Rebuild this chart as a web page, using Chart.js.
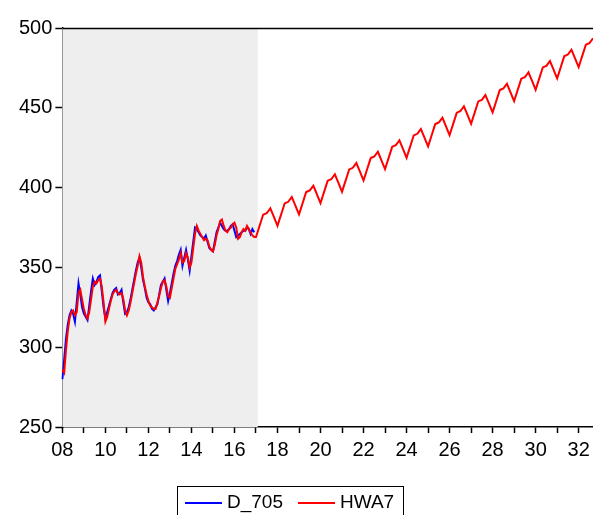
<!DOCTYPE html>
<html>
<head>
<meta charset="utf-8">
<script src="https://cdn.jsdelivr.net/npm/chart.js@4.4.0/dist/chart.umd.min.js"></script>
<style>
  html, body { margin: 0; padding: 0; background: #fff; overflow: hidden; }
  #wrap { position: relative; width: 593px; height: 515px; }
  #legend {
    position: absolute; left: 177px; top: 486px; width: 227px; height: 40px;
    border: 1px solid #000; box-sizing: border-box;
    font-family: 'Liberation Sans', Arial, sans-serif; font-size: 19px; color: #000;
  }
  #legend .item { position: absolute; top: 3px; line-height: 24px; }
  #legend .line { display: inline-block; width: 37px; height: 2px; vertical-align: middle; margin-right: 5px; }
</style>
</head>
<body>
<div id="wrap">
  <canvas id="chart" width="593" height="515"></canvas>
  <div id="legend">
    <span class="item" style="left:7px"><span class="line" style="background:#0000ff"></span>D_705</span>
    <span class="item" style="left:120px"><span class="line" style="background:#ff0000"></span>HWA7</span>
  </div>
</div>
<script>
// monthly periods, 2008M01 .. 2032M09
const years = [2008, 2009, 2010, 2011, 2012, 2013, 2014, 2015, 2016, 2017, 2018, 2019, 2020,
               2021, 2022, 2023, 2024, 2025, 2026, 2027, 2028, 2029, 2030, 2031, 2032];
const lastMonth = 9;
const shadeEnd = '2017M02';

// D_705 (actual), 2008M01 .. 2016M12
const d705 = [
  280, 292, 305, 314, 320, 323, 321, 316, 328, 340, 333, 325,
  321, 319, 317, 326, 335, 343, 339, 341, 344, 345, 335, 325,
  318, 322, 326, 330, 334, 336, 337, 333, 334, 336, 328, 321,
  322, 325, 330, 336, 342, 348, 353, 356, 350, 342, 337, 331,
  328, 327, 324, 323, 325, 327, 333, 339, 341, 343, 336, 329,
  334, 340, 346, 351, 354, 358, 361, 351, 356, 361, 355, 348,
  357, 366, 375, 374, 372, 370, 369, 368, 370, 366, 362, 361,
  360, 366, 372, 375, 378, 376, 374, 373, 373, 374, 376, 377,
  373, 369, 370, 371, 372, 373, 373, 375, 374, 371, 374, 372
];

// HWA7 fitted, 2008M01 .. 2016M12
const hwaFitted = [
  286, 284, 298, 310, 318, 322, 323, 320, 322, 334, 336, 330,
  324, 320, 318, 322, 330, 338, 341, 340, 342, 343, 338, 328,
  316, 319, 324, 329, 333, 335, 336, 334, 333, 334, 330, 323,
  320, 323, 328, 334, 340, 346, 351, 357, 353, 344, 338, 333,
  329, 326, 325, 324, 324, 328, 332, 337, 341, 342, 338, 332,
  331, 337, 343, 349, 352, 355, 359, 353, 354, 359, 356, 350,
  353, 362, 371, 376, 373, 371, 369, 367, 368, 367, 363, 361,
  360, 364, 370, 374, 379, 380, 376, 373, 372, 374, 375, 377,
  378, 375, 368, 369, 372, 374, 373, 376, 374, 372, 370, 369
];

// HWA7 forecast, 2017M01 .. 2032M09
const hwaForecast = [
  369.0, 372.5, 376.0, 379.5, 383.0, 383.5, 384.0, 385.5, 387.0, 384.3, 381.6, 378.8,
  376.1, 379.6, 383.1, 386.6, 390.1, 390.6, 391.1, 392.6, 394.1, 391.4, 388.7, 385.9,
  383.2, 386.7, 390.2, 393.7, 397.2, 397.7, 398.2, 399.7, 401.2, 398.5, 395.8, 393.0,
  390.3, 393.8, 397.3, 400.8, 404.3, 404.8, 405.3, 406.8, 408.3, 405.6, 402.9, 400.1,
  397.4, 400.9, 404.4, 407.9, 411.4, 411.9, 412.4, 413.9, 415.4, 412.7, 410.0, 407.2,
  404.5, 408.0, 411.5, 415.0, 418.5, 419.0, 419.5, 421.0, 422.5, 419.8, 417.1, 414.3,
  411.6, 415.1, 418.6, 422.1, 425.6, 426.1, 426.6, 428.1, 429.6, 426.9, 424.2, 421.4,
  418.7, 422.2, 425.7, 429.2, 432.7, 433.2, 433.7, 435.2, 436.7, 434.0, 431.3, 428.5,
  425.8, 429.3, 432.8, 436.3, 439.8, 440.3, 440.8, 442.3, 443.8, 441.1, 438.4, 435.6,
  432.9, 436.4, 439.9, 443.4, 446.9, 447.4, 447.9, 449.4, 450.9, 448.2, 445.5, 442.7,
  440.0, 443.5, 447.0, 450.5, 454.0, 454.5, 455.0, 456.5, 458.0, 455.3, 452.6, 449.8,
  447.1, 450.6, 454.1, 457.6, 461.1, 461.6, 462.1, 463.6, 465.1, 462.4, 459.7, 456.9,
  454.2, 457.7, 461.2, 464.7, 468.2, 468.7, 469.2, 470.7, 472.2, 469.5, 466.8, 464.0,
  461.3, 464.8, 468.3, 471.8, 475.3, 475.8, 476.3, 477.8, 479.3, 476.6, 473.9, 471.1,
  468.4, 471.9, 475.4, 478.9, 482.4, 482.9, 483.4, 484.9, 486.4, 483.7, 481.0, 478.2,
  475.5, 479.0, 482.5, 486.0, 489.5, 490.0, 490.5, 492.0, 493.5
];

const hwa7 = hwaFitted.concat(hwaForecast);

const labels = [];
years.forEach(y => {
  const n = (y === years[years.length - 1]) ? lastMonth : 12;
  for (let m = 1; m <= n; m++) labels.push(y + 'M' + String(m).padStart(2, '0'));
});

const FONT = "'Liberation Sans', Arial, sans-serif";

// grey sample-period shading + top frame line
const framePlugin = {
  id: 'frame',
  beforeDatasetsDraw(chart) {
    const { ctx, chartArea: a, scales } = chart;
    const xEnd = scales.x.getPixelForValue(labels.indexOf(shadeEnd));
    ctx.save();
    ctx.fillStyle = 'rgb(238,238,238)';
    ctx.fillRect(a.left, a.top, xEnd - a.left, a.bottom - a.top);
    ctx.restore();
  },
  afterDraw(chart) {
    const { ctx, chartArea: a } = chart;
    ctx.save();
    ctx.strokeStyle = '#000';
    ctx.lineWidth = 1.5;
    ctx.beginPath();
    ctx.moveTo(a.left, a.top + 0.5);
    ctx.lineTo(chart.width, a.top + 0.5);
    ctx.stroke();
    ctx.restore();
  }
};

const isJan = i => labels[i] && labels[i].endsWith('M01');

new Chart(document.getElementById('chart').getContext('2d'), {
  type: 'line',
  data: {
    labels: labels,
    datasets: [
      {
        label: 'D_705',
        data: d705,
        borderColor: '#0000ff',
        borderWidth: 2,
        pointRadius: 0,
        tension: 0,
        order: 2
      },
      {
        label: 'HWA7',
        data: hwa7,
        borderColor: '#ff0000',
        borderWidth: 2,
        pointRadius: 0,
        tension: 0,
        order: 1
      }
    ]
  },
  options: {
    responsive: false,
    animation: false,
    layout: { padding: { left: 16, right: 0, top: 28, bottom: 48 } },
    plugins: {
      legend: { display: false },
      tooltip: { enabled: false }
    },
    scales: {
      x: {
        type: 'category',
        offset: false,
        afterFit: s => { s.paddingRight = 0; },
        grid: {
          drawOnChartArea: false,
          drawTicks: true,
          tickLength: 6,
          tickWidth: 1.5,
          color: c => isJan(c.index) ? '#000' : 'rgba(0,0,0,0)'
        },
        border: { display: true, color: '#000', width: 1.5 },
        ticks: {
          autoSkip: false,
          maxRotation: 0,
          minRotation: 0,
          padding: 5,
          color: '#000',
          font: { family: FONT, size: 20 },
          callback: (v, i) => {
            const l = labels[i];
            if (!l.endsWith('M01')) return '';
            const y = parseInt(l.slice(0, 4), 10);
            return (y % 2 === 0) ? l.slice(2, 4) : '';
          }
        }
      },
      y: {
        min: 250,
        max: 500,
        grid: {
          drawOnChartArea: false,
          drawTicks: true,
          tickLength: 7,
          tickWidth: 1.5,
          color: '#000'
        },
        border: { display: true, color: '#000', width: 1.5 },
        ticks: {
          stepSize: 50,
          padding: 3,
          color: '#000',
          font: { family: FONT, size: 20 }
        }
      }
    }
  },
  plugins: [framePlugin]
});
</script>
</body>
</html>
